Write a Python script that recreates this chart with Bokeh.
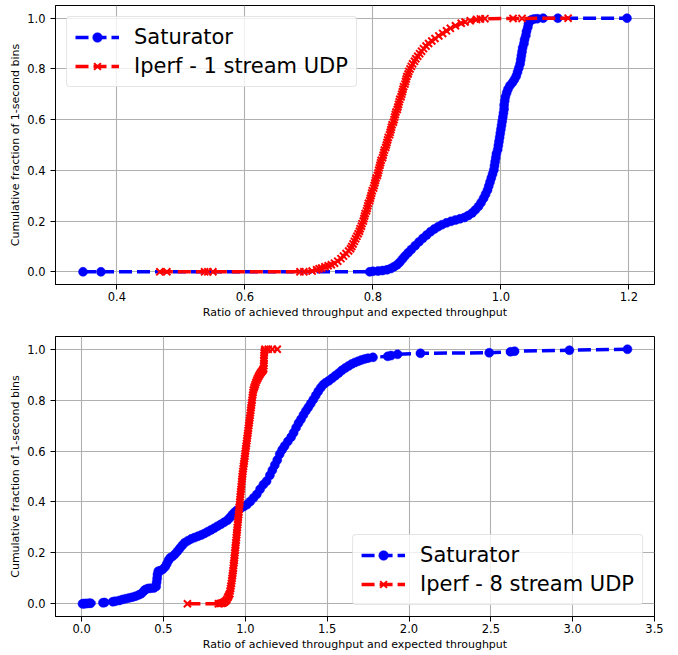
from bokeh.plotting import figure
from bokeh.models import (Range1d, FixedTicker, PrintfTickFormatter, Legend, LegendItem,
                          ColumnDataSource)
from bokeh.layouts import column
from bokeh.embed import file_html
from bokeh.resources import INLINE

# ---------------- data ----------------
# Top panel: Saturator vs Iperf - 1 stream UDP
sat1_x = [0.347, 0.375,
          0.795, 0.800, 0.808, 0.815, 0.822, 0.828, 0.833, 0.838, 0.842, 0.846,
          0.850, 0.855, 0.860, 0.866, 0.872, 0.878, 0.884, 0.890, 0.896, 0.902,
          0.908, 0.915, 0.922, 0.929, 0.936, 0.943, 0.949, 0.955, 0.960, 0.965,
          0.969, 0.973, 0.976, 0.979, 0.981, 0.983, 0.985, 0.987, 0.989, 0.990,
          0.991, 0.992, 0.993, 0.995, 0.996, 0.997, 0.998, 0.999, 1.000, 1.001,
          1.002, 1.003, 1.004, 1.005, 1.005, 1.006, 1.007, 1.009, 1.011, 1.014,
          1.018, 1.021, 1.024, 1.026, 1.028, 1.030, 1.031, 1.032, 1.033, 1.034,
          1.036, 1.037, 1.039, 1.040, 1.042, 1.043, 1.045, 1.048, 1.052, 1.057,
          1.066, 1.089, 1.197]
sat1_y = [0.000, 0.000,
          0.000, 0.002, 0.003, 0.005, 0.008, 0.013, 0.020, 0.028, 0.038, 0.050,
          0.062, 0.075, 0.088, 0.103, 0.118, 0.132, 0.145, 0.158, 0.169, 0.178,
          0.186, 0.193, 0.199, 0.204, 0.209, 0.214, 0.222, 0.232, 0.244, 0.258,
          0.273, 0.290, 0.306, 0.322, 0.338, 0.354, 0.370, 0.386, 0.402, 0.418,
          0.434, 0.450, 0.466, 0.482, 0.498, 0.514, 0.530, 0.546, 0.562, 0.578,
          0.594, 0.610, 0.626, 0.642, 0.658, 0.674, 0.690, 0.706, 0.720, 0.734,
          0.746, 0.758, 0.772, 0.788, 0.804, 0.820, 0.836, 0.852, 0.868, 0.884,
          0.900, 0.916, 0.932, 0.948, 0.964, 0.978, 0.988, 0.994, 0.997, 0.998,
          1.000, 1.000, 1.000]

ip1_x = [0.467, 0.478, 0.537, 0.542, 0.550, 0.686, 0.692,
         0.705, 0.712, 0.716, 0.720, 0.725, 0.730, 0.735, 0.740, 0.745, 0.750,
         0.754, 0.758, 0.762, 0.765,
         0.767, 0.769, 0.771, 0.773, 0.775, 0.777, 0.779, 0.780, 0.782, 0.783,
         0.785, 0.786, 0.787, 0.788, 0.790, 0.791, 0.792, 0.793, 0.795, 0.796,
         0.797, 0.798, 0.799, 0.801, 0.802, 0.803, 0.804, 0.805, 0.807, 0.808,
         0.809, 0.810, 0.811, 0.812, 0.813, 0.815, 0.816, 0.817, 0.818, 0.820,
         0.821, 0.822, 0.823, 0.824, 0.826, 0.827, 0.828, 0.829, 0.830, 0.832,
         0.833, 0.834, 0.835, 0.836, 0.838, 0.839, 0.840, 0.841, 0.842, 0.844,
         0.845, 0.846, 0.847, 0.848, 0.850, 0.851, 0.852, 0.853, 0.855, 0.856,
         0.858, 0.860, 0.862, 0.865, 0.867, 0.870, 0.873, 0.876, 0.879, 0.883,
         0.887, 0.892, 0.897, 0.903, 0.909, 0.915, 0.921, 0.929, 0.938, 0.944,
         0.952, 0.962, 0.968, 0.975, 1.019, 1.033, 1.105]
ip1_y = [0.000, 0.000, 0.000, 0.000, 0.000, 0.000, 0.000,
         0.003, 0.008, 0.012, 0.015, 0.020, 0.024, 0.028, 0.034, 0.042, 0.052,
         0.062, 0.072, 0.082, 0.091,
         0.10, 0.11, 0.12, 0.13, 0.14, 0.15, 0.16, 0.17, 0.18, 0.19,
         0.20, 0.21, 0.22, 0.23, 0.24, 0.25, 0.26, 0.27, 0.28, 0.29,
         0.30, 0.31, 0.32, 0.33, 0.34, 0.35, 0.36, 0.37, 0.38, 0.39,
         0.40, 0.41, 0.42, 0.43, 0.44, 0.45, 0.46, 0.47, 0.48, 0.49,
         0.50, 0.51, 0.52, 0.53, 0.54, 0.55, 0.56, 0.57, 0.58, 0.59,
         0.60, 0.61, 0.62, 0.63, 0.64, 0.65, 0.66, 0.67, 0.68, 0.69,
         0.70, 0.71, 0.72, 0.73, 0.74, 0.75, 0.76, 0.77, 0.78, 0.79,
         0.80, 0.81, 0.82, 0.83, 0.84, 0.85, 0.86, 0.87, 0.88, 0.89,
         0.90, 0.91, 0.92, 0.93, 0.94, 0.95, 0.96, 0.97, 0.98, 0.985,
         0.99, 0.995, 0.997, 0.998, 0.999, 0.999, 1.000]

# Bottom panel: Saturator vs Iperf - 8 stream UDP
sat8_x = [0.005, 0.012, 0.020, 0.030, 0.045, 0.055, 0.130, 0.140, 0.190, 0.205,
          0.230, 0.250, 0.270, 0.290, 0.310, 0.330, 0.350, 0.365, 0.380, 0.390,
          0.405, 0.420, 0.440, 0.455, 0.458, 0.461, 0.463, 0.468, 0.480, 0.495,
          0.510, 0.520, 0.530, 0.540, 0.555, 0.570, 0.585, 0.600, 0.615, 0.630,
          0.650, 0.670, 0.690, 0.710, 0.730, 0.750, 0.770, 0.790, 0.810, 0.830,
          0.850, 0.870, 0.890, 0.905, 0.920, 0.935, 0.950, 0.970, 0.990, 1.010,
          1.030, 1.050, 1.070, 1.090, 1.110, 1.130, 1.150, 1.165, 1.180, 1.195,
          1.210, 1.225, 1.240, 1.260, 1.280, 1.295, 1.310, 1.325, 1.340, 1.355,
          1.370, 1.385, 1.400, 1.415, 1.430, 1.445, 1.460, 1.475, 1.490, 1.510,
          1.530, 1.550, 1.570, 1.590, 1.610, 1.630, 1.650, 1.670, 1.690, 1.710,
          1.730, 1.750, 1.780, 1.870, 1.890, 1.930, 2.070, 2.490, 2.620, 2.645,
          2.980, 3.335]
sat8_y = [0.000, 0.000, 0.001, 0.001, 0.002, 0.002, 0.004, 0.005, 0.008, 0.010,
          0.013, 0.017, 0.020, 0.023, 0.026, 0.030, 0.035, 0.040, 0.050, 0.056,
          0.060, 0.061, 0.062, 0.068, 0.085, 0.100, 0.115, 0.128, 0.130, 0.135,
          0.145, 0.157, 0.170, 0.180, 0.186, 0.195, 0.206, 0.218, 0.230, 0.240,
          0.248, 0.255, 0.260, 0.265, 0.270, 0.276, 0.283, 0.290, 0.297, 0.305,
          0.312, 0.320, 0.328, 0.338, 0.350, 0.360, 0.368, 0.375, 0.382, 0.390,
          0.402, 0.416, 0.430, 0.450, 0.468, 0.482, 0.505, 0.525, 0.545, 0.565,
          0.588, 0.605, 0.620, 0.638, 0.655, 0.672, 0.692, 0.710, 0.725, 0.742,
          0.758, 0.772, 0.787, 0.802, 0.818, 0.834, 0.848, 0.860, 0.868, 0.876,
          0.886, 0.896, 0.906, 0.917, 0.926, 0.934, 0.942, 0.948, 0.953, 0.958,
          0.962, 0.965, 0.968, 0.972, 0.975, 0.980, 0.984, 0.986, 0.990, 0.992,
          0.996, 1.000]

ip8_x = [0.646, 0.835, 0.845, 0.855, 0.862, 0.868, 0.875, 0.882, 0.888, 0.893,
         0.897, 0.901,
         0.905, 0.907, 0.910, 0.912, 0.915, 0.917, 0.919, 0.921, 0.923, 0.925,
         0.927, 0.928, 0.930, 0.932, 0.933, 0.935, 0.936, 0.938, 0.939, 0.941,
         0.942, 0.944, 0.945, 0.947, 0.948, 0.950, 0.951, 0.953, 0.954, 0.956,
         0.957, 0.959, 0.960, 0.962, 0.963, 0.965, 0.966, 0.968, 0.969, 0.971,
         0.972, 0.974, 0.975, 0.977, 0.978, 0.980, 0.981, 0.983, 0.985, 0.987,
         0.989, 0.991, 0.993, 0.995, 0.997, 0.999, 1.001, 1.003, 1.005, 1.007,
         1.009, 1.011, 1.013, 1.015, 1.017, 1.019, 1.021, 1.023, 1.025, 1.027,
         1.029, 1.031, 1.033, 1.035, 1.037, 1.039, 1.041, 1.043, 1.045, 1.047,
         1.049, 1.053, 1.057, 1.061, 1.065, 1.070, 1.075, 1.080, 1.085, 1.090,
         1.095, 1.100, 1.105, 1.109, 1.112, 1.113, 1.113, 1.113, 1.114, 1.114,
         1.115, 1.117, 1.120, 1.140, 1.165, 1.195]
ip8_y = [0.000, 0.000, 0.001, 0.002, 0.003, 0.005, 0.008, 0.012, 0.018, 0.025,
         0.030, 0.035,
         0.04, 0.05, 0.06, 0.07, 0.08, 0.09, 0.10, 0.11, 0.12, 0.13,
         0.14, 0.15, 0.16, 0.17, 0.18, 0.19, 0.20, 0.21, 0.22, 0.23,
         0.24, 0.25, 0.26, 0.27, 0.28, 0.29, 0.30, 0.31, 0.32, 0.33,
         0.34, 0.35, 0.36, 0.37, 0.38, 0.39, 0.40, 0.41, 0.42, 0.43,
         0.44, 0.45, 0.46, 0.47, 0.48, 0.49, 0.50, 0.51, 0.52, 0.53,
         0.54, 0.55, 0.56, 0.57, 0.58, 0.59, 0.60, 0.61, 0.62, 0.63,
         0.64, 0.65, 0.66, 0.67, 0.68, 0.69, 0.70, 0.71, 0.72, 0.73,
         0.74, 0.75, 0.76, 0.77, 0.78, 0.79, 0.80, 0.81, 0.82, 0.83,
         0.84, 0.848, 0.855, 0.862, 0.870, 0.878, 0.885, 0.892, 0.898, 0.903,
         0.908, 0.912, 0.916, 0.920, 0.925, 0.935, 0.945, 0.955, 0.965, 0.975,
         0.985, 0.993, 1.000, 1.000, 1.000, 1.000]

y_ticks = [0.0, 0.2, 0.4, 0.6, 0.8, 1.0]
top_x_ticks = [0.4, 0.6, 0.8, 1.0, 1.2]
bot_x_ticks = [0.0, 0.5, 1.0, 1.5, 2.0, 2.5, 3.0, 3.5]

x_label = "Ratio of achieved throughput and expected throughput"
y_label = "Cumulative fraction of 1-second bins"
FONT = "DejaVu Sans"
BLUE = "#0000ff"
RED = "#ff0000"


def make_panel(xr, xticks, series, legend_loc, height, border_top, border_bottom):
    p = figure(width=678, height=height, x_range=Range1d(*xr), y_range=Range1d(-0.05, 1.05),
               output_backend="svg", toolbar_location=None,
               min_border_left=55, min_border_right=24,
               min_border_top=border_top, min_border_bottom=border_bottom)
    p.background_fill_color = "white"
    p.border_fill_color = "white"
    p.outline_line_color = "black"
    p.outline_line_width = 1
    for ax, ticks in ((p.xaxis, xticks), (p.yaxis, y_ticks)):
        ax.ticker = FixedTicker(ticks=ticks)
        ax.formatter = PrintfTickFormatter(format="%.1f")
        ax.major_tick_out = 5
        ax.major_tick_in = 0
        ax.minor_tick_out = 0
        ax.minor_tick_in = 0
        ax.major_label_text_font = FONT
        ax.major_label_text_font_size = "11.5px"
        ax.major_label_text_color = "#000000"
        ax.axis_label_text_font = FONT
        ax.axis_label_text_font_size = "11px"
        ax.axis_label_text_font_style = "normal"
        ax.axis_label_text_color = "#000000"
        ax.axis_line_color = "black"
        ax.major_tick_line_color = "black"
    p.xaxis.major_label_standoff = 2
    p.xaxis.axis_label_standoff = 2
    p.yaxis.major_label_standoff = 5
    p.yaxis.axis_label_standoff = 2
    p.xaxis.axis_label = x_label
    p.yaxis.axis_label = y_label
    p.grid.grid_line_color = "#b0b0b0"
    p.grid.grid_line_width = 1.1
    p.xgrid.ticker = FixedTicker(ticks=xticks)
    p.ygrid.ticker = FixedTicker(ticks=y_ticks)

    items = []
    for name, xs, ys, color, marker in series:
        src = ColumnDataSource(dict(x=xs, y=ys))
        ln = p.line("x", "y", source=src, line_color=color, line_width=3.5, line_dash="13 5")
        if marker == "circle":
            mk = p.scatter("x", "y", source=src, marker="circle", size=9,
                           fill_color=color, line_color=color, line_width=0.5)
        else:
            mk = p.scatter("x", "y", source=src, marker="x", size=10,
                           line_color=color, line_width=2)
        items.append(LegendItem(label=name, renderers=[ln, mk]))

    leg = Legend(items=items, location=legend_loc)
    leg.label_text_font = FONT
    leg.label_text_font_size = "21px"
    leg.label_text_color = "#000000"
    leg.glyph_width = 44
    leg.glyph_height = 24
    leg.label_height = 24
    leg.label_standoff = 15
    leg.padding = 8
    leg.spacing = 5
    leg.margin = 11
    leg.border_line_color = "#cccccc"
    leg.border_line_width = 1
    leg.background_fill_color = "white"
    leg.background_fill_alpha = 0.8
    if "border_radius" in Legend.properties():
        leg.border_radius = 4
    p.add_layout(leg)
    return p


p1 = make_panel((0.304, 1.240), top_x_ticks,
                [("Saturator", sat1_x, sat1_y, BLUE, "circle"),
                 ("Iperf - 1 stream UDP", ip1_x, ip1_y, RED, "x")],
                "top_left", 330, 5, 46)
p2 = make_panel((-0.16, 3.50), bot_x_ticks,
                [("Saturator", sat8_x, sat8_y, BLUE, "circle"),
                 ("Iperf - 8 stream UDP", ip8_x, ip8_y, RED, "x")],
                "bottom_right", 325, 6, 39)

layout = column(p1, p2, spacing=0)
open("out.html", "w").write(file_html(layout, INLINE))
